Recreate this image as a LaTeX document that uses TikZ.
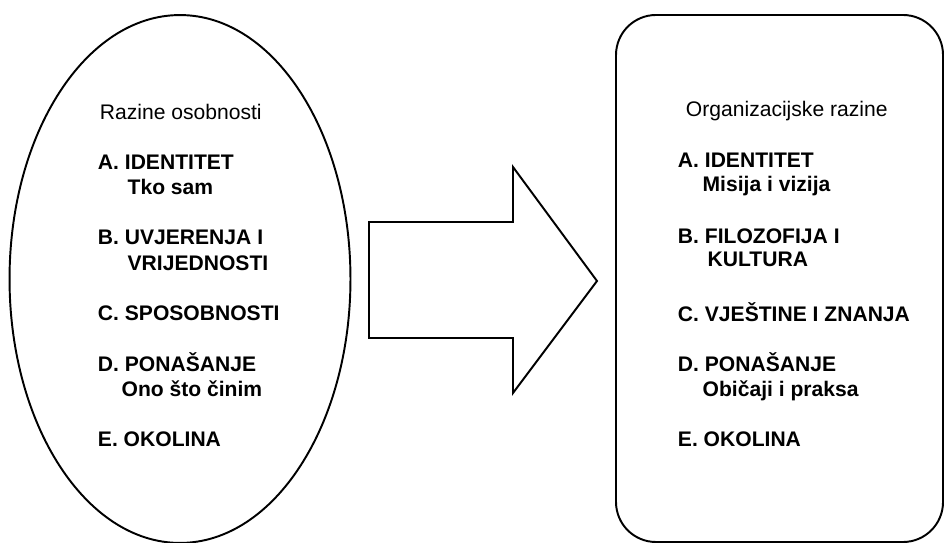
\documentclass[tikz,border=0pt]{standalone}
\usepackage{fontspec}
\setmainfont{Liberation Sans}
\begin{document}
\begin{tikzpicture}[x=0.02cm, y=-0.02cm, line width=1.1pt,
		headtext/.style={anchor=base west, inner sep=0pt, font=\fontsize{12}{14}\selectfont},
		leveltext/.style={headtext, font=\fontsize{12}{14}\selectfont\bfseries}]
		
		% Fix the page size
		\useasboundingbox (0,0) rectangle (945,543);
		
		% Draw the ellipse and the rounded box
		\draw (180,279) ellipse [x radius=3.41cm, y radius=5.28cm];
		\draw[rounded corners=0.8cm] (616,15) rectangle (943,542);
		
		% Draw the block arrow
		\def\xa{369}
		\def\xb{513}
		\draw[line join=miter]
		(\xa,222) -- (\xb,222) -- (\xb,167) -- (597,281) -- (\xb,393) -- (\xb,338) -- (\xa,338) -- cycle;
		
		% Left column
		\node[headtext] (ltitle) at (99,119.3) {Razine osobnosti};
		\node[leveltext] (la) at (97,170) {A. IDENTITET};
		\node[leveltext] (lasub) at (126.7,195) {Tko sam};
		\node[leveltext] (lb) at (97,245) {B. UVJERENJA I};
		\node[leveltext] (lbsub) at (126.7,271) {VRIJEDNOSTI};
		\node[leveltext] (lc) at (97,320.7) {C. SPOSOBNOSTI};
		\node[leveltext] (ld) at (97,371.7) {D. PONAŠANJE};
		\node[leveltext] (ldsub) at (120.7,396) {Ono što činim};
		\node[leveltext] (le) at (97,446.7) {E. OKOLINA};
		
		% Right column
		\node[headtext] (rtitle) at (685,116.7) {Organizacijske razine};
		\node[leveltext] (ra) at (677,168) {A. IDENTITET};
		\node[leveltext] (rasub) at (701.7,191.7) {Misija i vizija};
		\node[leveltext] (rb) at (677,243.3) {B. FILOZOFIJA I};
		\node[leveltext] (rbsub) at (706.7,266.7) {KULTURA};
		\node[leveltext] (rc) at (677,321.7) {C. VJEŠTINE I ZNANJA};
		\node[leveltext] (rd) at (677,371.7) {D. PONAŠANJE};
		\node[leveltext] (rdsub) at (701.7,396.7) {Običaji i praksa};
		\node[leveltext] (re) at (677,446.7) {E. OKOLINA};
		
	\end{tikzpicture}
\end{document}
